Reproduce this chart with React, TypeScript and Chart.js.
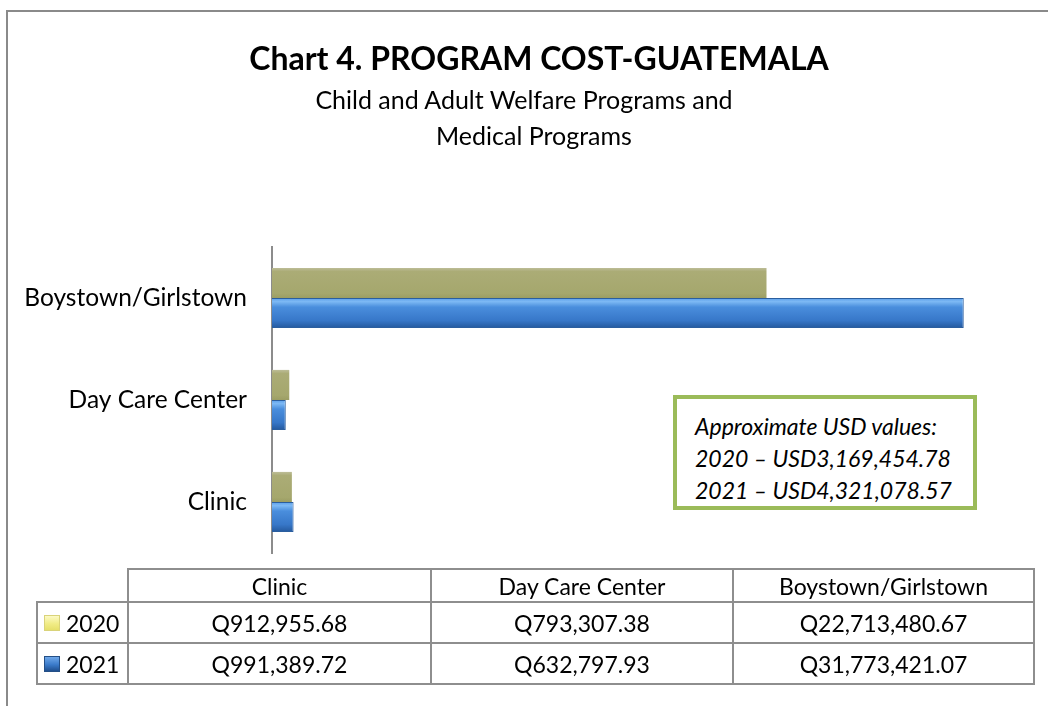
import React, { useEffect, useRef } from 'react';
import { Chart, registerables } from 'chart.js';

Chart.register(...registerables);

// ---- data ----
const categories = ['Clinic', 'Day Care Center', 'Boystown/Girlstown'];
const seriesYears = ['2020', '2021'];
const values2020 = [912955.68, 793307.38, 22713480.67];
const values2021 = [991389.72, 632797.93, 31773421.07];
const usdNotes = ['Approximate USD values:', '2020 – USD3,169,454.78', '2021 – USD4,321,078.57'];
const titleText = 'Chart 4. PROGRAM COST-GUATEMALA';
const subtitleLines = ['Child and Adult Welfare Programs and', 'Medical Programs'];
const xMax = 35000000;

const FONT = 'Lato, "Open Sans", sans-serif';
const CAT_PCT = 0.59;

const fmtQ = (v: number) =>
  'Q' + v.toLocaleString('en-US', { minimumFractionDigits: 2, maximumFractionDigits: 2 });

const oliveStops: [number, string][] = [
  [0, '#BDBD98'],
  [0.12, '#ABAC76'],
  [0.85, '#A5A76D'],
  [1, '#9B9D63'],
];
const blueStops: [number, string][] = [
  [0, '#5A9EEA'],
  [0.12, '#7DB9F4'],
  [0.3, '#4A8EDD'],
  [0.75, '#3777C8'],
  [1, '#24589C'],
];

function barGradient(ctx: any, stops: [number, string][]) {
  const chart = ctx.chart;
  const y = chart.scales && chart.scales.y;
  if (!y || ctx.type !== 'data' || !chart.chartArea) return stops[2][1];
  const catW = Math.abs(y.getPixelForValue(1) - y.getPixelForValue(0));
  const center = y.getPixelForValue(ctx.dataIndex);
  const groupH = catW * CAT_PCT;
  const barH = groupH / 2;
  const top = center - groupH / 2 + ctx.datasetIndex * barH;
  const g = chart.ctx.createLinearGradient(0, top, 0, top + barH);
  stops.forEach(([o, c]) => g.addColorStop(o, c));
  return g;
}

export default function App() {
  const canvasRef = useRef<HTMLCanvasElement | null>(null);

  useEffect(() => {
    if (!canvasRef.current) return;
    const chart = new Chart(canvasRef.current, {
      type: 'bar',
      data: {
        labels: categories,
        datasets: [
          {
            label: seriesYears[0],
            data: values2020,
            backgroundColor: (c: any) => barGradient(c, oliveStops),
            borderWidth: 0,
          },
          {
            label: seriesYears[1],
            data: values2021,
            backgroundColor: (c: any) => barGradient(c, blueStops),
            borderColor: '#2B5E9E',
            borderWidth: 1,
          },
        ],
      },
      options: {
        indexAxis: 'y',
        responsive: false,
        animation: false,
        events: [],
        datasets: { bar: { categoryPercentage: CAT_PCT, barPercentage: 1 } },
        layout: { padding: { top: 247, bottom: 153, left: 0, right: 14 } },
        plugins: { legend: { display: false }, tooltip: { enabled: false }, title: { display: false } },
        scales: {
          x: { display: false, min: 0, max: xMax },
          y: {
            type: 'category',
            reverse: true,
            grid: { display: false, drawTicks: false },
            border: { display: true, color: '#8C8C8C', width: 2 },
            ticks: { padding: 25, color: '#000', font: { family: FONT, size: 24.5 } },
            afterFit: (s: any) => {
              s.width = 272;
            },
          },
        },
      } as any,
    });
    return () => chart.destroy();
  }, []);

  const lineColor = '#8E8E8E';
  const colX = [37, 128, 431, 733, 1034];
  const rowY = [569, 602, 643, 684];
  const hLine = (y: number, x1: number, x2: number, k: string) => (
    <div key={k} style={{ position: 'absolute', left: x1 - 1, top: y - 1, width: x2 - x1 + 2, height: 2, background: lineColor }} />
  );
  const vLine = (x: number, y1: number, y2: number, k: string) => (
    <div key={k} style={{ position: 'absolute', left: x - 1, top: y1 - 1, width: 2, height: y2 - y1 + 2, background: lineColor }} />
  );
  const cell = (text: string, x1: number, x2: number, y1: number, y2: number, k: string) => (
    <div
      key={k}
      style={{
        position: 'absolute',
        left: x1,
        top: y1,
        width: x2 - x1,
        height: y2 - y1,
        display: 'flex',
        alignItems: 'center',
        justifyContent: 'center',
        fontFamily: FONT,
        fontSize: 23,
        color: '#000',
        whiteSpace: 'nowrap',
      }}
    >
      {text}
    </div>
  );

  const rowsValues = [values2020, values2021];
  const keyBg = [
    'linear-gradient(180deg, #FCFAC4 0%, #F1EC86 55%, #E6E06A 100%)',
    'linear-gradient(180deg, #6FA8EA 0%, #3A7AC9 55%, #1F4F8F 100%)',
  ];
  const keyBorder = ['#D9D37A', '#244F86'];

  return (
    <div style={{ position: 'fixed', left: 0, top: 0, width: 1048, height: 706, background: '#fff', overflow: 'hidden' }}>
      {/* outer frame */}
      <div
        style={{
          position: 'absolute',
          left: 6,
          top: 10,
          width: 1200,
          height: 900,
          borderTop: '2px solid #8A8A8A',
          borderLeft: '2px solid #8A8A8A',
        }}
      />
      <canvas ref={canvasRef} width={1048} height={706} style={{ position: 'absolute', left: 0, top: 0 }} />

      {/* titles */}
      <div
        style={{
          position: 'absolute',
          left: 539 - 450,
          width: 900,
          top: 39,
          textAlign: 'center',
          fontFamily: FONT,
          fontWeight: 700,
          fontSize: 32,
          lineHeight: 1.2,
          color: '#000',
        }}
      >
        {titleText}
      </div>
      {subtitleLines.map((t, i) => (
        <div
          key={'st' + i}
          style={{
            position: 'absolute',
            left: (i === 0 ? 524 : 534) - 400,
            width: 800,
            top: 84 + i * 36,
            textAlign: 'center',
            fontFamily: FONT,
            fontSize: 25,
            lineHeight: 1.2,
            color: '#000',
          }}
        >
          {t}
        </div>
      ))}

      {/* annotation box */}
      <div
        style={{
          position: 'absolute',
          left: 673,
          top: 395,
          width: 304,
          height: 115,
          boxSizing: 'border-box',
          border: '4px solid #9BBB59',
          background: '#fff',
          paddingLeft: 18,
          paddingTop: 11,
          fontFamily: FONT,
          fontStyle: 'italic',
          fontSize: 23,
          lineHeight: '32px',
          color: '#000',
          whiteSpace: 'nowrap',
        }}
      >
        {usdNotes.map((t, i) => (
          <div key={'n' + i}>{t}</div>
        ))}
      </div>

      {/* data table */}
      {hLine(rowY[0], colX[1], colX[4], 'h0')}
      {hLine(rowY[1], colX[0], colX[4], 'h1')}
      {hLine(rowY[2], colX[0], colX[4], 'h2')}
      {hLine(rowY[3], colX[0], colX[4], 'h3')}
      {vLine(colX[0], rowY[1], rowY[3], 'v0')}
      {vLine(colX[1], rowY[0], rowY[3], 'v1')}
      {vLine(colX[2], rowY[0], rowY[3], 'v2')}
      {vLine(colX[3], rowY[0], rowY[3], 'v3')}
      {vLine(colX[4], rowY[0], rowY[3], 'v4')}
      {categories.map((c, i) => cell(c, colX[i + 1], colX[i + 2], rowY[0], rowY[1], 'hc' + i))}
      {rowsValues.map((vals, r) =>
        vals.map((v, i) => cell(fmtQ(v), colX[i + 1], colX[i + 2], rowY[r + 1], rowY[r + 2], 'c' + r + '-' + i))
      )}
      {seriesYears.map((yr, r) => (
        <div
          key={'lg' + r}
          style={{
            position: 'absolute',
            left: 44,
            top: rowY[r + 1],
            height: rowY[r + 2] - rowY[r + 1],
            display: 'flex',
            alignItems: 'center',
            fontFamily: FONT,
            fontSize: 23,
            color: '#000',
          }}
        >
          <span
            style={{
              display: 'inline-block',
              width: 16,
              height: 16,
              boxSizing: 'border-box',
              background: keyBg[r],
              border: '1px solid ' + keyBorder[r],
              marginRight: 6,
            }}
          />
          <span>{yr}</span>
        </div>
      ))}
    </div>
  );
}
